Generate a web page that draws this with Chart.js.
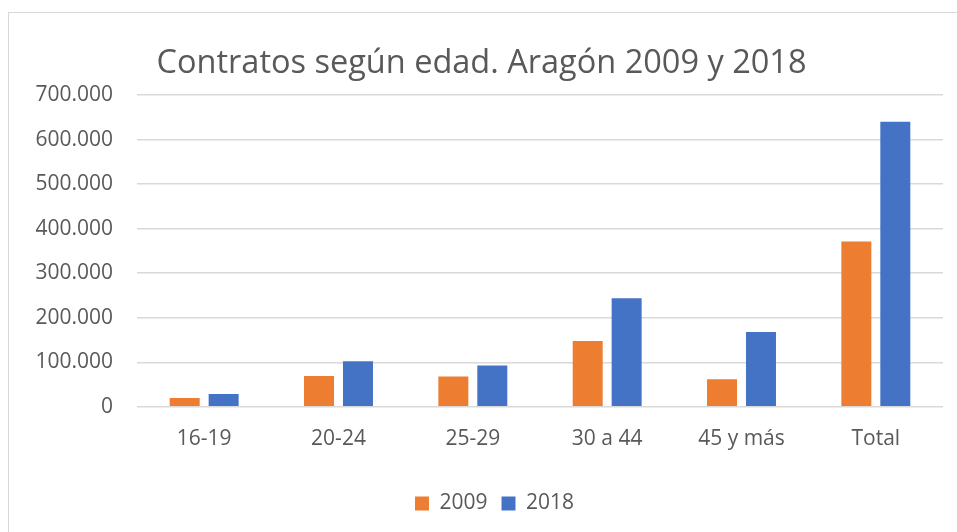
<!DOCTYPE html>
<html>
<head>
<meta charset="utf-8">
<script src="https://cdn.jsdelivr.net/npm/chart.js@4/dist/chart.umd.min.js"></script>
<style>
  html, body { margin: 0; padding: 0; background: #ffffff; }
  #wrap { width: 957px; height: 532px; position: relative; }
</style>
</head>
<body>
<div id="wrap"><canvas id="c" width="957" height="532"></canvas></div>
<script>
const categories = ['16-19', '20-24', '25-29', '30 a 44', '45 y más', 'Total'];
const values2009 = [19500, 69000, 68000, 148000, 62000, 371000];
const values2018 = [28500, 102000, 93000, 243500, 168000, 640000];
const seriesLabels = ['2009', '2018'];
const titleText = 'Contratos según edad. Aragón 2009 y 2018';

function fmt(v) {
  return String(Math.round(v)).replace(/\B(?=(\d{3})+(?!\d))/g, '.');
}

const frame = {
  id: 'frame',
  beforeDraw(chart) {
    const ctx = chart.ctx;
    ctx.save();
    ctx.fillStyle = '#ffffff';
    ctx.fillRect(0, 0, chart.width, chart.height);
    ctx.strokeStyle = '#d9d9d9';
    ctx.lineWidth = 1;
    ctx.strokeRect(8.5, 12.5, chart.width + 20, chart.height + 20);
    ctx.restore();
  }
};

const legendShift = {
  id: 'legendShift',
  afterLayout(chart) {
    const lg = chart.legend;
    if (!lg) return;
    lg.left += 13;
    lg.right += 13;
    lg.adjustHitBoxes();
  }
};

const FONT = "'Open Sans', sans-serif";

new Chart(document.getElementById('c'), {
  type: 'bar',
  data: {
    labels: categories,
    datasets: [
      { label: seriesLabels[0], data: values2009, backgroundColor: '#ED7D31', categoryPercentage: 0.58, barPercentage: 0.77 },
      { label: seriesLabels[1], data: values2018, backgroundColor: '#4472C4', categoryPercentage: 0.58, barPercentage: 0.77 }
    ]
  },
  options: {
    responsive: false,
    animation: false,
    layout: { padding: { left: 20, right: 14, top: 44, bottom: 8 } },
    plugins: {
      title: {
        display: true,
        text: titleText,
        color: '#595959',
        font: { family: FONT, size: 32.5, weight: 'normal' },
        padding: { top: 0, bottom: 12 }
      },
      legend: {
        position: 'bottom',
        labels: {
          color: '#595959',
          font: { family: FONT, size: 21 },
          boxWidth: 14,
          boxHeight: 14,
          padding: 14
        }
      },
      tooltip: { enabled: false }
    },
    scales: {
      x: {
        afterFit(scale) { scale.height += 7; },
        grid: { display: false, drawTicks: false },
        border: { display: false },
        ticks: { color: '#595959', font: { family: FONT, size: 21 }, padding: 20 }
      },
      y: {
        min: 0,
        max: 700000,
        afterFit(scale) { scale.width = 117; },
        grid: { color: '#d9d9d9', lineWidth: 1.5, drawTicks: false },
        border: { display: false },
        ticks: {
          stepSize: 100000,
          color: '#595959',
          font: { family: FONT, size: 21 },
          padding: 24,
          callback: (v) => fmt(v)
        }
      }
    }
  },
  plugins: [frame, legendShift]
});
</script>
</body>
</html>
